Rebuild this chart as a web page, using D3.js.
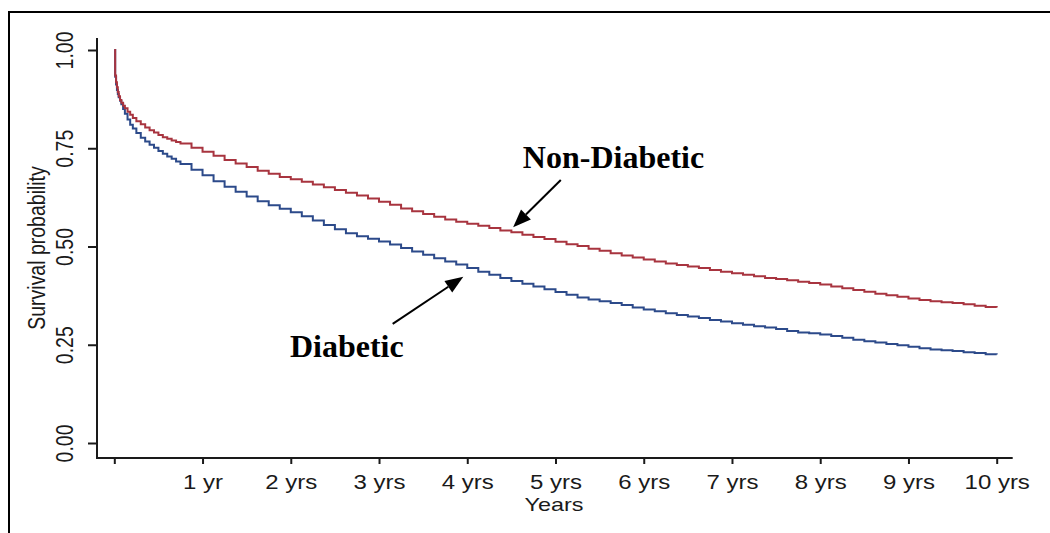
<!DOCTYPE html>
<html>
<head>
<meta charset="utf-8">
<script src="https://cdn.jsdelivr.net/npm/d3@7"></script>
<style>
  html, body { margin: 0; padding: 0; background: #ffffff; }
  svg { display: block; }
</style>
</head>
<body>
<svg id="chart" width="1050" height="533"></svg>
<script>
// Kaplan-Meier survival estimates (years since start of follow-up)
const timeYears = [
  0, 0.01, 0.02, 0.03, 0.04, 0.05, 0.065, 0.08, 0.1, 0.12, 0.15, 0.18, 0.21,
  0.25, 0.3, 0.35, 0.4, 0.45, 0.5, 0.55, 0.6, 0.65, 0.7,
  0.75, 0.875, 1.0, 1.125, 1.25, 1.375, 1.5, 1.625, 1.75, 1.875,
  2.0, 2.125, 2.25, 2.375, 2.5, 2.625, 2.75, 2.875,
  3.0, 3.125, 3.25, 3.375, 3.5, 3.625, 3.75, 3.875,
  4.0, 4.125, 4.25, 4.375, 4.5, 4.625, 4.75, 4.875,
  5.0, 5.125, 5.25, 5.375, 5.5, 5.625, 5.75, 5.875,
  6.0, 6.125, 6.25, 6.375, 6.5, 6.625, 6.75, 6.875,
  7.0, 7.125, 7.25, 7.375, 7.5, 7.625, 7.75, 7.875,
  8.0, 8.125, 8.25, 8.375, 8.5, 8.625, 8.75, 8.875,
  9.0, 9.125, 9.25, 9.375, 9.5, 9.625, 9.75, 9.875, 10.0
];

const survNonDiabetic = [
  1.000, 0.935, 0.918, 0.905, 0.893, 0.882, 0.873, 0.866, 0.858, 0.852, 0.843, 0.835, 0.827,
  0.819, 0.811, 0.803, 0.796, 0.790, 0.784, 0.778, 0.774, 0.770, 0.766,
  0.762, 0.751, 0.741, 0.731, 0.720, 0.711, 0.702, 0.693, 0.685, 0.677,
  0.671, 0.665, 0.658, 0.651, 0.644, 0.637, 0.630, 0.622,
  0.614, 0.606, 0.597, 0.590, 0.583, 0.576, 0.569, 0.563,
  0.558, 0.553, 0.547, 0.541, 0.536, 0.530, 0.524, 0.519,
  0.512, 0.506, 0.501, 0.494, 0.489, 0.483, 0.477, 0.472,
  0.467, 0.462, 0.457, 0.453, 0.449, 0.445, 0.440, 0.436,
  0.432, 0.428, 0.424, 0.420, 0.417, 0.414, 0.410, 0.407,
  0.403, 0.398, 0.394, 0.389, 0.385, 0.380, 0.376, 0.372,
  0.368, 0.364, 0.361, 0.358, 0.356, 0.353, 0.349, 0.346, 0.345
];

const survDiabetic = [
  1.000, 0.932, 0.912, 0.898, 0.888, 0.880, 0.871, 0.862, 0.850, 0.838, 0.823, 0.810, 0.800,
  0.789, 0.777, 0.767, 0.759, 0.751, 0.743, 0.736, 0.729, 0.723, 0.716,
  0.710, 0.695, 0.681, 0.666, 0.652, 0.639, 0.627, 0.615, 0.605, 0.596,
  0.587, 0.577, 0.566, 0.555, 0.544, 0.534, 0.526, 0.520,
  0.513, 0.505, 0.496, 0.487, 0.479, 0.470, 0.462, 0.454,
  0.445, 0.436, 0.428, 0.420, 0.412, 0.405, 0.398, 0.391,
  0.384, 0.377, 0.370, 0.365, 0.361, 0.356, 0.351, 0.345,
  0.340, 0.335, 0.330, 0.326, 0.322, 0.318, 0.313, 0.309,
  0.305, 0.301, 0.297, 0.294, 0.290, 0.285, 0.281, 0.279,
  0.276, 0.272, 0.268, 0.263, 0.259, 0.256, 0.252, 0.249,
  0.245, 0.241, 0.238, 0.236, 0.234, 0.231, 0.229, 0.226, 0.225
];

const seriesNames = ["Diabetic", "Non-Diabetic"];
const seriesColors = ["#2c4a8a", "#a8343f"];

const xTickValues = [0, 1, 2, 3, 4, 5, 6, 7, 8, 9, 10];
const xTickLabels = ["", "1 yr", "2 yrs", "3 yrs", "4 yrs", "5 yrs",
                     "6 yrs", "7 yrs", "8 yrs", "9 yrs", "10 yrs"];
const yTickValues = [0, 0.25, 0.5, 0.75, 1];
const yTickLabels = ["0.00", "0.25", "0.50", "0.75", "1.00"];

const xTitle = "Years";
const yTitle = "Survival probability";

// Callouts: label anchor and arrow tail/tip, in data units (years, survival)
const callouts = [
  { text: "Non-Diabetic", tx: 4.63, ty: 0.701, from: [5.06, 0.669], to: [4.52, 0.549] },
  { text: "Diabetic",     tx: 1.99, ty: 0.218, from: [3.155, 0.303], to: [3.955, 0.423] }
];

// ---- drawing ----
const svg = d3.select("#chart");
const sansFont = "'Liberation Sans', Arial, Helvetica, sans-serif";
const serifFont = "'Liberation Serif', 'Times New Roman', serif";
const ink = "#1a1a1a";
const SX = 1.23; // labels are set slightly wide

const x = d3.scaleLinear().domain([0, 10]).range([114.3, 996.7]);
const y = d3.scaleLinear().domain([0, 1]).range([443, 50]);

const axisX0 = 97, axisY0 = 458;

// page frame (top and left rules)
svg.append("path")
  .attr("d", "M9,533 V12 H1050")
  .attr("fill", "none")
  .attr("stroke", "#000")
  .attr("stroke-width", 2);

// survival curves
const line = d3.line()
  .x((d, i) => x(timeYears[i]))
  .y(d => y(d))
  .curve(d3.curveStepAfter);

[survDiabetic, survNonDiabetic].forEach((s, k) => {
  svg.append("path")
    .datum(s)
    .attr("d", line)
    .attr("fill", "none")
    .attr("stroke", seriesColors[k])
    .attr("stroke-width", 2)
    .attr("stroke-linejoin", "miter");
});

// x axis
const gx = svg.append("g")
  .attr("transform", `translate(0,${axisY0})`)
  .call(d3.axisBottom(x)
    .tickValues(xTickValues)
    .tickFormat((d, i) => xTickLabels[i])
    .tickSizeInner(6)
    .tickSizeOuter(0));
gx.select(".domain").remove();
gx.selectAll(".tick line").attr("stroke", ink).attr("stroke-width", 2);
gx.selectAll(".tick text")
  .attr("y", 0).attr("dy", null)
  .attr("transform", `translate(0,31) scale(${SX},1)`)
  .attr("fill", ink)
  .style("font-family", sansFont)
  .style("font-size", "19.5px");

svg.append("line")
  .attr("x1", axisX0).attr("x2", 1012.7)
  .attr("y1", axisY0).attr("y2", axisY0)
  .attr("stroke", ink).attr("stroke-width", 2);

// y axis
const gy = svg.append("g")
  .attr("transform", `translate(${axisX0},0)`)
  .call(d3.axisLeft(y)
    .tickValues(yTickValues)
    .tickFormat((d, i) => yTickLabels[i])
    .tickSizeInner(9)
    .tickSizeOuter(0));
gy.select(".domain").remove();
gy.selectAll(".tick line").attr("stroke", ink).attr("stroke-width", 2);
gy.selectAll(".tick text")
  .attr("x", 0).attr("y", 0).attr("dy", null)
  .attr("text-anchor", "middle")
  .attr("transform", `translate(-24,0) scale(${SX},1) rotate(-90)`)
  .attr("fill", ink)
  .style("font-family", sansFont)
  .style("font-size", "19.5px");

svg.append("line")
  .attr("x1", axisX0).attr("x2", axisX0)
  .attr("y1", 38).attr("y2", axisY0 + 1)
  .attr("stroke", ink).attr("stroke-width", 2);

// axis titles
svg.append("text")
  .attr("transform", `translate(554,511) scale(${SX},1)`)
  .attr("text-anchor", "middle")
  .attr("fill", ink)
  .style("font-family", sansFont)
  .style("font-size", "19px")
  .text(xTitle);

svg.append("text")
  .attr("transform", `translate(45,248) scale(${SX},1) rotate(-90)`)
  .attr("text-anchor", "middle")
  .attr("fill", ink)
  .style("font-family", sansFont)
  .style("font-size", "19.5px")
  .text(yTitle);

// callouts with arrows
callouts.forEach(c => {
  svg.append("text")
    .attr("x", x(c.tx)).attr("y", y(c.ty))
    .attr("fill", "#000")
    .style("font-family", serifFont)
    .style("font-weight", "bold")
    .style("font-size", "32px")
    .text(c.text);

  const x1 = x(c.from[0]), y1 = y(c.from[1]);
  const x2 = x(c.to[0]), y2 = y(c.to[1]);
  const ang = Math.atan2(y2 - y1, x2 - x1);
  const headLen = 18, headHalf = 7;
  const bx = x2 - headLen * Math.cos(ang), by = y2 - headLen * Math.sin(ang);
  svg.append("line")
    .attr("x1", x1).attr("y1", y1).attr("x2", bx).attr("y2", by)
    .attr("stroke", "#000").attr("stroke-width", 2);
  const px = -Math.sin(ang) * headHalf, py = Math.cos(ang) * headHalf;
  svg.append("path")
    .attr("d", `M${x2},${y2} L${bx + px},${by + py} L${bx - px},${by - py} Z`)
    .attr("fill", "#000");
});
</script>
</body>
</html>
